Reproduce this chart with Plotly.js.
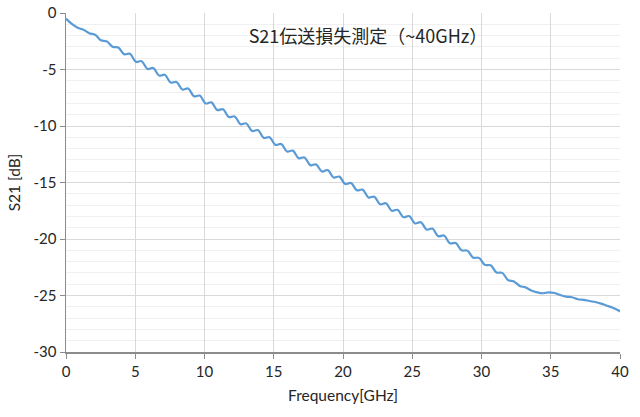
<!DOCTYPE html>
<html>
<head>
<meta charset="utf-8">
<script src="https://cdn.plot.ly/plotly-3.0.1.min.js"></script>
<style>html,body{margin:0;padding:0;background:#fff;}#chart{width:640px;height:417px;}</style>
</head>
<body>
<div id="chart"></div>
<script>
const freqGHz = [0, 0.42, 0.84, 1.26, 1.68, 2.10, 2.52, 2.94, 3.36, 3.78, 4.20, 4.62, 5.04, 5.46, 5.88, 6.30, 6.72, 7.14, 7.56, 7.98, 8.40, 8.82, 9.24, 9.66, 10.08, 10.50, 10.92, 11.34, 11.76, 12.18, 12.60, 13.02, 13.44, 13.86, 14.28, 14.70, 15.12, 15.54, 15.96, 16.38, 16.80, 17.22, 17.64, 18.06, 18.48, 18.90, 19.32, 19.74, 20.16, 20.58, 21.00, 21.42, 21.84, 22.26, 22.68, 23.10, 23.52, 23.94, 24.36, 24.78, 25.20, 25.62, 26.04, 26.46, 26.88, 27.30, 27.72, 28.14, 28.56, 28.98, 29.40, 29.82, 30.24, 30.66, 31.08, 31.50, 31.92, 32.34, 32.76, 33.18, 33.60, 34.02, 34.44, 34.86, 35.28, 35.70, 36.12, 36.54, 36.96, 37.38, 37.80, 38.22, 38.64, 39.06, 39.48, 39.90, 40.00];
const s21dB = [-0.5, -0.97, -1.30, -1.48, -1.79, -1.92, -2.41, -2.51, -2.98, -3.06, -3.65, -3.61, -4.32, -4.26, -4.95, -4.87, -5.54, -5.47, -6.16, -6.10, -6.77, -6.68, -7.37, -7.31, -8.00, -7.91, -8.58, -8.52, -9.21, -9.15, -9.84, -9.77, -10.45, -10.36, -11.05, -10.99, -11.67, -11.59, -12.26, -12.18, -12.85, -12.78, -13.47, -13.40, -14.03, -13.90, -14.56, -14.48, -15.14, -15.04, -15.69, -15.63, -16.32, -16.26, -16.92, -16.83, -17.50, -17.42, -18.07, -17.97, -18.62, -18.51, -19.17, -19.08, -19.76, -19.69, -20.38, -20.36, -21.00, -21.03, -21.65, -21.67, -22.29, -22.33, -22.96, -23.00, -23.64, -23.75, -24.15, -24.28, -24.56, -24.72, -24.80, -24.72, -24.78, -24.96, -25.10, -25.15, -25.33, -25.38, -25.49, -25.58, -25.72, -25.90, -26.08, -26.33, -26.42];
const xTicks = [0, 5, 10, 15, 20, 25, 30, 35, 40];
const xTickText = ["0", "5", "10", "15", "20", "25", "30", "35", "40"];
const yTicks = [0, -5, -10, -15, -20, -25, -30];
const yTickText = ["0", "-5", "-10", "-15", "-20", "-25", "-30"];
const chartTitle = "S21伝送損失測定（~40GHz）";
const xTitle = "Frequency[GHz]";
const yTitle = "S21 [dB]";

const font = "Lato, 'Noto Sans', 'Noto Sans CJK JP', sans-serif";
const trace = {
  x: freqGHz, y: s21dB, type: "scatter", mode: "lines",
  line: {color: "#5B9BD5", width: 2.2, shape: "spline", smoothing: 1},
  hoverinfo: "skip"
};
const layout = {
  width: 640, height: 417,
  margin: {l: 66, r: 20, t: 13, b: 65},
  paper_bgcolor: "#fff", plot_bgcolor: "#fff",
  showlegend: false,
  font: {family: font, size: 15, color: "#262626"},
  title: {
    text: chartTitle, xref: "container", yref: "container",
    x: 0.575, xanchor: "center", y: 0.913, yanchor: "middle",
    font: {family: "'Noto Sans CJK JP', 'Noto Sans', sans-serif", size: 18, color: "#262626"}
  },
  xaxis: {
    range: [0, 40], tickmode: "array", tickvals: xTicks, ticktext: xTickText,
    showgrid: true, gridcolor: "#d9d9d9", gridwidth: 1,
    showline: true, linecolor: "#8c8c8c", linewidth: 1.5,
    ticks: "outside", ticklen: 5, tickcolor: "#8c8c8c",
    zeroline: false, fixedrange: true,
    tickfont: {family: font, size: 15, color: "#262626"},
    title: {text: xTitle, standoff: 11, font: {family: font, size: 15.5, color: "#262626"}}
  },
  yaxis: {
    range: [-30, 0], tickmode: "array", tickvals: yTicks, ticktext: yTickText,
    showgrid: true, gridcolor: "#d9d9d9", gridwidth: 1,
    minor: {dtick: 1, showgrid: true, gridcolor: "#f0f0f0", gridwidth: 1},
    showline: true, linecolor: "#8c8c8c", linewidth: 1.5,
    ticks: "outside", ticklen: 5, tickcolor: "#8c8c8c",
    zeroline: false, fixedrange: true,
    tickfont: {family: font, size: 15, color: "#262626"},
    title: {text: yTitle, standoff: 9, font: {family: font, size: 15.5, color: "#262626"}}
  }
};
Plotly.newPlot("chart", [trace], layout, {displayModeBar: false, staticPlot: true});
</script>
</body>
</html>
